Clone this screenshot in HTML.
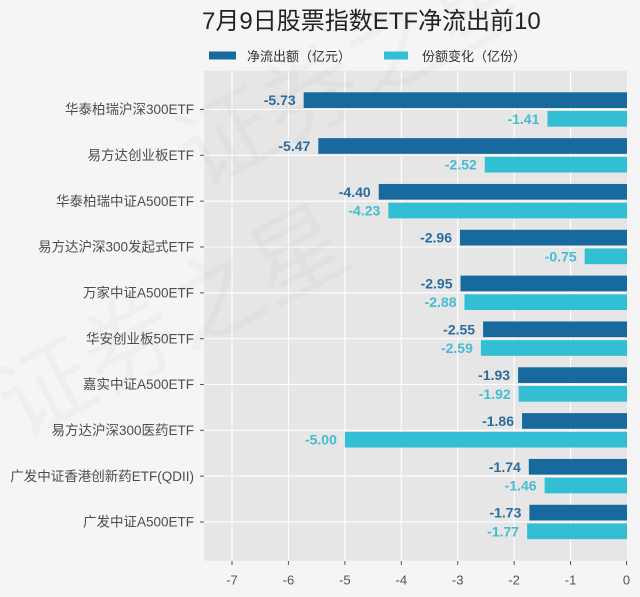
<!DOCTYPE html>
<html><head><meta charset="utf-8"><style>
html,body{margin:0;padding:0;background:#f5f5f5;width:640px;height:597px;overflow:hidden;}
svg{display:block;font-family:"Liberation Sans","Noto Sans CJK SC",sans-serif;}
</style></head><body>
<svg width="640" height="597" viewBox="0 0 640 597" xmlns="http://www.w3.org/2000/svg" overflow="hidden">
<rect x="0" y="0" width="640" height="597" fill="#f5f5f5"/>
<!-- plot bg -->
<rect x="204" y="70.7" width="423" height="490" fill="#e6e6e6"/>
<!-- grid -->
<g stroke="#ffffff" stroke-width="1.1">
<line x1="231.99" y1="70.7" x2="231.99" y2="560.7"/>
<line x1="288.42" y1="70.7" x2="288.42" y2="560.7"/>
<line x1="344.85" y1="70.7" x2="344.85" y2="560.7"/>
<line x1="401.28" y1="70.7" x2="401.28" y2="560.7"/>
<line x1="457.71" y1="70.7" x2="457.71" y2="560.7"/>
<line x1="514.14" y1="70.7" x2="514.14" y2="560.7"/>
<line x1="570.57" y1="70.7" x2="570.57" y2="560.7"/>
<line x1="204" y1="109.5" x2="627" y2="109.5"/>
<line x1="204" y1="155.33" x2="627" y2="155.33"/>
<line x1="204" y1="201.16" x2="627" y2="201.16"/>
<line x1="204" y1="246.99" x2="627" y2="246.99"/>
<line x1="204" y1="292.82" x2="627" y2="292.82"/>
<line x1="204" y1="338.65" x2="627" y2="338.65"/>
<line x1="204" y1="384.48" x2="627" y2="384.48"/>
<line x1="204" y1="430.31" x2="627" y2="430.31"/>
<line x1="204" y1="476.14" x2="627" y2="476.14"/>
<line x1="204" y1="521.97" x2="627" y2="521.97"/>
</g>
<!-- watermark -->
<g fill="#000" fill-opacity="0.022" font-size="95">
<text x="0" y="0" transform="translate(20,440) rotate(-28)">证券之星</text>
<text x="0" y="0" transform="translate(200,190) rotate(-28)">证券之星</text>
</g>
<!-- dark bars -->
<g fill="#17699e">
<rect x="303.66" y="92.3" width="323.34" height="15.7"/>
<rect x="318.33" y="138.13" width="308.67" height="15.7"/>
<rect x="378.71" y="183.96" width="248.29" height="15.7"/>
<rect x="459.97" y="229.79" width="167.03" height="15.7"/>
<rect x="460.53" y="275.62" width="166.47" height="15.7"/>
<rect x="483.10" y="321.45" width="143.90" height="15.7"/>
<rect x="518.09" y="367.28" width="108.91" height="15.7"/>
<rect x="522.04" y="413.11" width="104.96" height="15.7"/>
<rect x="528.81" y="458.94" width="98.19" height="15.7"/>
<rect x="529.38" y="504.77" width="97.62" height="15.7"/>
</g>
<!-- cyan bars -->
<g fill="#32bfd3">
<rect x="547.43" y="111.0" width="79.57" height="15.7"/>
<rect x="484.80" y="156.83" width="142.20" height="15.7"/>
<rect x="388.30" y="202.66" width="238.70" height="15.7"/>
<rect x="584.68" y="248.49" width="42.32" height="15.7"/>
<rect x="464.48" y="294.32" width="162.52" height="15.7"/>
<rect x="480.85" y="340.15" width="146.15" height="15.7"/>
<rect x="518.65" y="385.98" width="108.35" height="15.7"/>
<rect x="344.85" y="431.81" width="282.15" height="15.7"/>
<rect x="544.61" y="477.64" width="82.39" height="15.7"/>
<rect x="527.12" y="523.47" width="99.88" height="15.7"/>
</g>
<!-- dark labels -->
<g fill="#2c6c9c" font-size="14" font-weight="bold" text-anchor="end">
<text x="295.7" y="105.2">-5.73</text>
<text x="310.3" y="151.0">-5.47</text>
<text x="370.7" y="196.8">-4.40</text>
<text x="452.0" y="242.7">-2.96</text>
<text x="452.5" y="288.5">-2.95</text>
<text x="475.1" y="334.3">-2.55</text>
<text x="510.1" y="380.2">-1.93</text>
<text x="514.0" y="426.0">-1.86</text>
<text x="520.8" y="471.8">-1.74</text>
<text x="521.4" y="517.7">-1.73</text>
</g>
<!-- cyan labels -->
<g fill="#45bcd1" font-size="14" font-weight="bold" text-anchor="end">
<text x="539.4" y="123.9">-1.41</text>
<text x="476.8" y="169.7">-2.52</text>
<text x="380.3" y="215.6">-4.23</text>
<text x="576.7" y="261.4">-0.75</text>
<text x="456.5" y="307.2">-2.88</text>
<text x="472.9" y="353.0">-2.59</text>
<text x="510.7" y="398.9">-1.92</text>
<text x="336.9" y="444.7">-5.00</text>
<text x="536.6" y="490.5">-1.46</text>
<text x="519.1" y="536.4">-1.77</text>
</g>
<!-- ticks -->
<g stroke="#555" stroke-width="1">
<line x1="200" y1="109.5" x2="204" y2="109.5"/>
<line x1="200" y1="155.33" x2="204" y2="155.33"/>
<line x1="200" y1="201.16" x2="204" y2="201.16"/>
<line x1="200" y1="246.99" x2="204" y2="246.99"/>
<line x1="200" y1="292.82" x2="204" y2="292.82"/>
<line x1="200" y1="338.65" x2="204" y2="338.65"/>
<line x1="200" y1="384.48" x2="204" y2="384.48"/>
<line x1="200" y1="430.31" x2="204" y2="430.31"/>
<line x1="200" y1="476.14" x2="204" y2="476.14"/>
<line x1="200" y1="521.97" x2="204" y2="521.97"/>
<line x1="231.99" y1="561" x2="231.99" y2="565"/>
<line x1="288.42" y1="561" x2="288.42" y2="565"/>
<line x1="344.85" y1="561" x2="344.85" y2="565"/>
<line x1="401.28" y1="561" x2="401.28" y2="565"/>
<line x1="457.71" y1="561" x2="457.71" y2="565"/>
<line x1="514.14" y1="561" x2="514.14" y2="565"/>
<line x1="570.57" y1="561" x2="570.57" y2="565"/>
<line x1="626.5" y1="561" x2="626.5" y2="565"/>
</g>
<!-- category labels -->
<g fill="#4d4d4d" font-size="13.5" text-anchor="end">
<text x="194" y="114.2">华泰柏瑞沪深300ETF</text>
<text x="194" y="160.0">易方达创业板ETF</text>
<text x="194" y="205.9">华泰柏瑞中证A500ETF</text>
<text x="194" y="251.7">易方达沪深300发起式ETF</text>
<text x="194" y="297.5">万家中证A500ETF</text>
<text x="194" y="343.4">华安创业板50ETF</text>
<text x="194" y="389.2">嘉实中证A500ETF</text>
<text x="194" y="435.0">易方达沪深300医药ETF</text>
<text x="194" y="480.9">广发中证香港创新药ETF(QDII)</text>
<text x="194" y="526.7">广发中证A500ETF</text>
</g>
<!-- x labels -->
<g fill="#555" font-size="13" text-anchor="middle">
<text x="231.99" y="584.5">-7</text>
<text x="288.42" y="584.5">-6</text>
<text x="344.85" y="584.5">-5</text>
<text x="401.28" y="584.5">-4</text>
<text x="457.71" y="584.5">-3</text>
<text x="514.14" y="584.5">-2</text>
<text x="570.57" y="584.5">-1</text>
<text x="626.5" y="584.5">0</text>
</g>
<!-- legend -->
<rect x="209" y="51.5" width="27" height="8" fill="#17699e"/>
<text x="247" y="61" font-size="13" fill="#333">净流出额（亿元）</text>
<rect x="384" y="51.5" width="24" height="8" fill="#32bfd3"/>
<text x="422" y="61" font-size="13" fill="#333">份额变化（亿份）</text>
<!-- title -->
<text x="202" y="29" font-size="24" fill="#222">7月9日股票指数ETF净流出前10</text>
</svg>
</body></html>
